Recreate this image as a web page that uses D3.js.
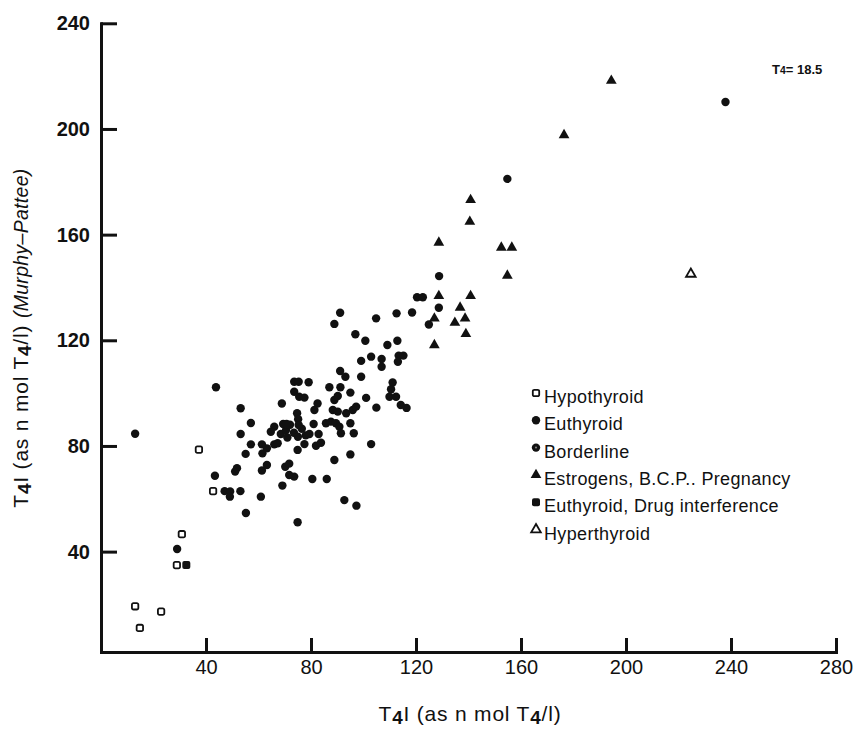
<!DOCTYPE html>
<html>
<head>
<meta charset="utf-8">
<script src="https://cdn.jsdelivr.net/npm/d3@7"></script>
<style>
  body { margin: 0; background: #fff; }
  svg { font-family: "Liberation Sans", Arial, Helvetica, sans-serif; }
  .axis path, .axis line { stroke: #111; stroke-width: 3; }
  .axis text { fill: #111; font-size: 20px; }
  .yaxis text { font-weight: bold; }
</style>
</head>
<body>
<svg id="chart" width="860" height="730"></svg>
<script>
// tick values
const xTicks = [40, 80, 120, 160, 200, 240, 280];
const yTicks = [40, 80, 120, 160, 200, 240];

// series, [T4I, T4I Murphy-Pattee]
const hypothyroid = [[37.3, 78.6], [42.7, 62.9], [30.8, 46.6], [28.9, 34.9], [13.0, 19.3], [22.9, 17.3], [14.8, 11.1]];
const euthyroid = [
  [13.0, 84.6], [29.0, 41.0], [43.8, 102.2], [43.4, 68.7],
  [53.2, 94.3], [57.1, 88.7], [53.2, 84.5], [57.1, 80.6], [61.3, 80.6], [55.1, 77.0], [61.5, 77.2], [63.2, 79.1],
  [66.0, 80.6], [67.3, 81.0], [51.1, 70.3], [51.8, 71.6], [61.3, 70.7], [63.2, 72.8], [47.1, 62.9], [49.2, 62.8],
  [49.1, 60.8], [53.1, 62.9], [60.9, 60.8], [55.2, 54.6], [69.1, 65.0], [70.2, 72.1], [71.7, 73.3], [71.7, 69.0],
  [73.6, 68.4], [74.9, 78.5], [74.9, 51.1], [68.9, 96.1],
  [91.1, 130.4], [88.9, 126.2], [104.8, 128.3], [96.9, 122.3], [100.7, 119.8], [99.1, 112.2], [102.9, 113.8],
  [73.6, 104.3], [75.3, 104.3], [79.1, 104.1], [73.6, 100.5], [75.5, 98.6], [77.5, 98.3], [87.0, 102.2],
  [91.2, 102.2], [95.0, 100.2], [101.0, 98.2], [104.9, 94.5], [91.1, 108.4], [93.1, 106.2], [99.1, 106.2],
  [82.5, 96.1], [81.3, 93.6], [68.5, 84.5], [70.5, 86.0], [72.0, 88.0], [73.5, 85.0], [75.0, 83.5], [76.5, 86.5],
  [78.0, 84.0], [71.0, 83.2], [74.7, 92.4], [75.1, 90.1], [75.3, 87.9], [66.0, 87.3], [64.7, 85.4], [69.4, 88.3],
  [70.7, 88.3], [79.4, 84.5], [82.9, 84.5], [81.0, 88.3], [85.7, 88.6], [87.6, 89.2], [89.5, 88.6], [90.8, 87.3],
  [91.4, 84.8], [88.3, 93.6], [90.2, 93.0], [93.4, 92.4], [95.9, 93.6], [97.2, 94.9], [88.9, 97.4], [90.2, 98.9],
  [95.0, 88.6], [96.3, 84.8], [102.9, 80.7], [77.5, 80.7], [81.9, 80.1], [83.8, 81.2], [88.9, 74.7], [95.0, 76.8],
  [80.5, 67.5], [86.0, 67.5], [92.7, 59.5], [97.3, 57.4],
  [128.8, 144.3], [120.4, 136.3], [122.6, 136.3], [128.7, 132.3], [118.5, 130.5], [112.6, 130.2], [124.9, 126.0],
  [109.1, 118.2], [112.9, 119.8], [113.4, 114.2], [115.2, 114.2], [106.9, 112.9], [106.9, 110.0], [113.1, 111.9],
  [111.1, 104.0], [110.5, 101.5], [109.9, 98.6], [112.4, 98.6], [116.4, 94.4], [114.2, 95.5],
  [154.8, 181.1], [237.9, 210.2]
];
const borderline = [];
const estrogens = [
  [194.4, 218.3], [176.4, 197.7], [140.8, 173.1], [140.5, 164.9], [128.7, 157.0], [152.5, 155.1], [156.5, 155.1],
  [154.8, 144.5], [128.7, 136.8], [140.8, 136.8], [136.8, 132.4], [127.0, 128.3], [134.8, 126.7], [138.7, 128.3],
  [139.0, 122.4], [127.0, 118.2]
];
const drugInterference = [[32.5, 34.9]];
const hyperthyroid = [[224.7, 145.1]];

const legendLabels = ["Hypothyroid", "Euthyroid", "Borderline", "Estrogens, B.C.P.. Pregnancy",
  "Euthyroid, Drug interference", "Hyperthyroid"];

const svg = d3.select("#chart");

// scales
const x = d3.scaleLinear().domain([0, 280]).range([101, 836]);
const y = d3.scaleLinear().domain([2, 240]).range([652, 23.3]);

// axes, ticks pointing inwards
svg.append("g")
  .attr("class", "axis yaxis")
  .attr("transform", "translate(101,0)")
  .call(d3.axisLeft(y).tickValues(yTicks).tickSizeInner(-16).tickSizeOuter(0).tickPadding(11));

svg.append("g")
  .attr("class", "axis xaxis")
  .attr("transform", "translate(0,652)")
  .call(d3.axisBottom(x).tickValues(xTicks).tickSizeInner(-14).tickSizeOuter(0).tickPadding(8));

svg.selectAll(".axis .domain").attr("stroke-linecap", "square");

// marker drawing
const ink = "#111";
function drawSymbol(g, kind) {
  if (kind === "hypo") {
    g.append("rect").attr("x", -3.2).attr("y", -3.2).attr("width", 6.4).attr("height", 6.4).attr("rx", 1.5)
      .attr("fill", "#fff").attr("stroke", ink).attr("stroke-width", 1.8);
  } else if (kind === "eu") {
    g.append("circle").attr("r", 4.2).attr("fill", ink);
  } else if (kind === "border") {
    g.append("circle").attr("r", 4.2).attr("fill", ink);
    g.append("circle").attr("r", 1).attr("fill", "#888");
  } else if (kind === "estro") {
    g.append("path").attr("d", d3.symbol(d3.symbolTriangle, 50)()).attr("fill", ink);
  } else if (kind === "drug") {
    g.append("rect").attr("x", -4).attr("y", -4).attr("width", 8).attr("height", 8).attr("rx", 2).attr("fill", ink);
  } else if (kind === "hyper") {
    g.append("path").attr("d", d3.symbol(d3.symbolTriangle, 40)())
      .attr("fill", "#fff").attr("stroke", ink).attr("stroke-width", 1.8);
  }
}

const groups = [
  ["eu", euthyroid], ["border", borderline], ["estro", estrogens],
  ["drug", drugInterference], ["hyper", hyperthyroid], ["hypo", hypothyroid]
];
groups.forEach(([kind, data]) => {
  svg.append("g").selectAll("g")
    .data(data)
    .enter().append("g")
    .attr("transform", d => `translate(${x(d[0])},${y(d[1])})`)
    .each(function() { drawSymbol(d3.select(this), kind); });
});

// legend
const legendKinds = ["hypo", "eu", "border", "estro", "drug", "hyper"];
const legend = svg.append("g").attr("transform", "translate(536,396)");
legendKinds.forEach((k, i) => {
  const row = legend.append("g").attr("transform", `translate(0,${i * 27.3})`);
  const sym = row.append("g").attr("transform", "translate(0,-3)");
  drawSymbol(sym, k);
  row.append("text").attr("x", 8).attr("y", 7)
    .attr("font-size", 18).attr("letter-spacing", 0.35).attr("fill", ink)
    .text(legendLabels[i]);
});

// axis titles with subscript 4
function t4Title(t) {
  t.append("tspan").text("T");
  t.append("tspan").attr("dy", 3).attr("font-size", "0.9em").attr("font-weight", "bold").text("4");
  t.append("tspan").attr("dy", -3).text("I (as n mol T");
  t.append("tspan").attr("dy", 3).attr("font-size", "0.9em").attr("font-weight", "bold").text("4");
  t.append("tspan").attr("dy", -3).text("/l)");
}

const xt = svg.append("text").attr("x", 470).attr("y", 721)
  .attr("text-anchor", "middle").attr("font-size", 21).attr("letter-spacing", 0.8).attr("fill", ink);
t4Title(xt);

const yt = svg.append("text")
  .attr("transform", "translate(28,338) rotate(-90)")
  .attr("text-anchor", "middle").attr("font-size", 21).attr("letter-spacing", 0.8).attr("fill", ink);
t4Title(yt);
yt.append("tspan").text(" ");
yt.append("tspan").attr("font-style", "italic").attr("font-size", 19.5).attr("letter-spacing", 0.3)
  .text("(Murphy\u2013Pattee)");

// annotation for the off-scale point
const note = svg.append("text").attr("x", 772).attr("y", 74)
  .attr("font-size", 13).attr("font-weight", "bold").attr("fill", ink);
note.append("tspan").text("T");
note.append("tspan").attr("font-size", "0.8em").text("4");
note.append("tspan").text("= 18.5");
</script>
</body>
</html>
